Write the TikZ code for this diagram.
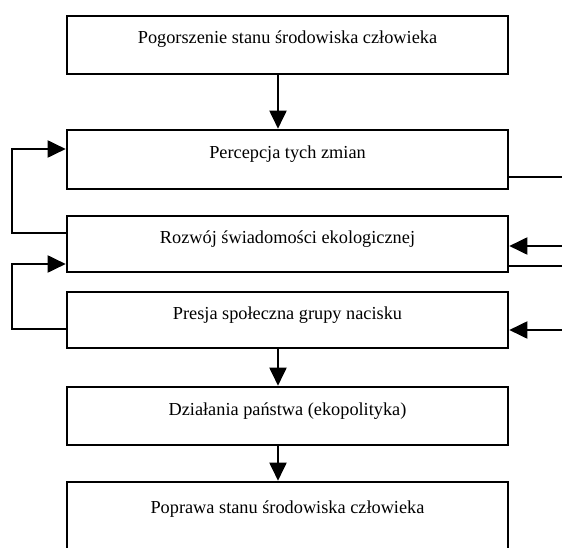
\documentclass[tikz,border=0pt]{standalone}
\usepackage{fontspec}
\setmainfont{Liberation Serif}
\usetikzlibrary{arrows.meta}
\begin{document}
\begin{tikzpicture}[x=1pt,y=-1pt,
  box/.style={draw,line width=2.6pt,minimum width=441pt,inner sep=0pt,
    font=\fontsize{18.3}{20}\selectfont,text height=13pt,text depth=15pt},
  conn/.style={line width=1.9pt},
  arr/.style={line width=1.9pt,-{Triangle[length=18pt,width=17pt]}}]
\fill[white] (0,0) rectangle (562,548);
\useasboundingbox (0,0) rectangle (562,548);
\clip (0,0) rectangle (562,548);
\node[box,minimum height=58pt] (b1) at (287.5,45) {Pogorszenie stanu środowiska człowieka};
\node[box,minimum height=59pt] (b2) at (287.5,159.5) {Percepcja tych zmian};
\node[box,minimum height=56pt] (b3) at (287.5,244) {Rozwój świadomości ekologicznej};
\node[box,minimum height=56pt] (b4) at (287.5,320) {Presja społeczna grupy nacisku};
\node[box,minimum height=58pt] (b5) at (287.5,416) {Działania państwa (ekopolityka)};
\node[box,minimum height=76pt,text depth=27pt] (b6) at (287.5,520) {Poprawa stanu środowiska człowieka};
\coordinate (ax) at (278,0);
\coordinate (L) at (12,0);
\coordinate (R) at (575,0);
\draw[arr] (b1.south -| ax) -- (b2.north -| ax);
\draw[arr] (b4.south -| ax) -- (b5.north -| ax);
\draw[arr] (b5.south -| ax) -- (b6.north -| ax);
\draw[arr] (b3.west |- 0,233) -| (L |- 0,149) -- (b2.west |- 0,149);
\draw[arr] (b4.west |- 0,329) -| (L |- 0,264) -- (b3.west |- 0,264);
\draw[conn] (b2.east |- 0,177) -- (R |- 0,177);
\draw[arr] (R |- 0,246) -- (b3.east |- 0,246);
\draw[conn] (b3.east |- 0,266) -- (R |- 0,266);
\draw[arr] (R |- 0,330) -- (b4.east |- 0,330);
\end{tikzpicture}
\end{document}
